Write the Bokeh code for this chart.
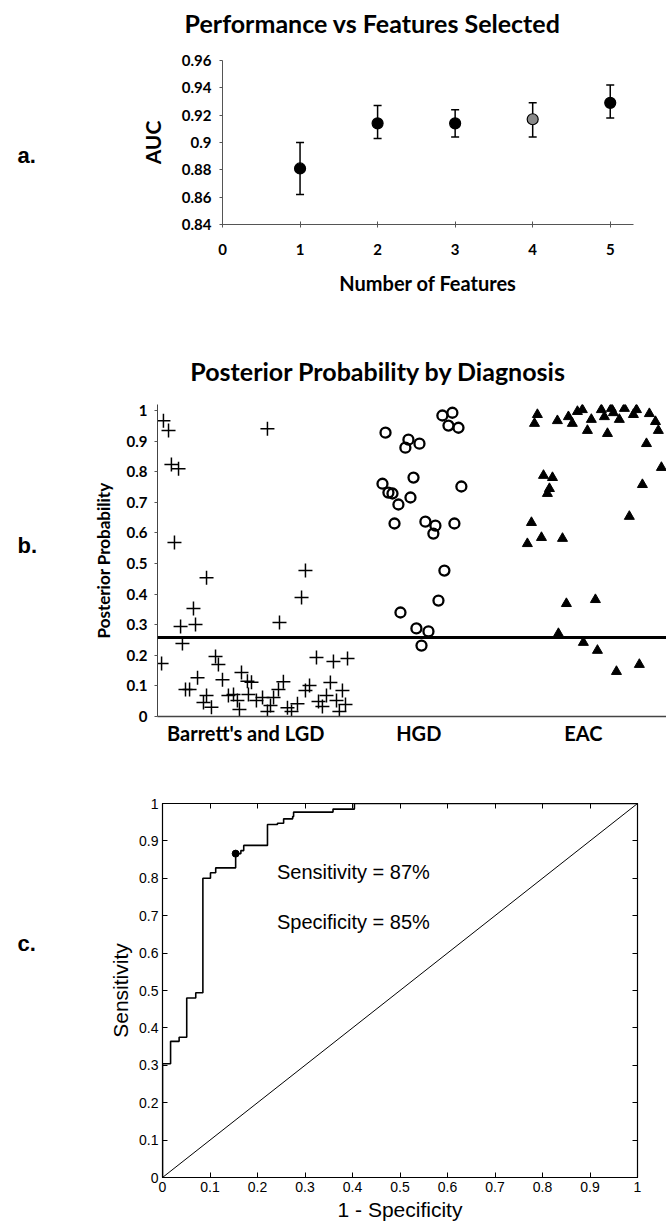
from bokeh.plotting import figure
from bokeh.models import (Label, Whisker, ColumnDataSource, FixedTicker, LinearAxis,
                          Span, CustomJSTickFormatter, TeeHead, Range1d)
from bokeh.layouts import column, row
from bokeh.embed import file_html
from bokeh.resources import INLINE

# ---------------- data: panel a ----------------
features = [1, 2, 3, 4, 5]
auc_mean = [0.881, 0.914, 0.914, 0.917, 0.929]
auc_low = [0.862, 0.903, 0.904, 0.904, 0.918]
auc_high = [0.900, 0.927, 0.924, 0.929, 0.942]
auc_fill = ["black", "black", "black", "#8a8a8a", "black"]
a_xticks = [0, 1, 2, 3, 4, 5]
a_yticks = [0.84, 0.86, 0.88, 0.9, 0.92, 0.94, 0.96]

# ---------------- data: panel b ----------------
categories = ["Barrett's and LGD", "HGD", "EAC"]
category_pos = [0.52, 1.54, 2.51]
threshold = 0.258
lgd_x = [0.035, 0.065, 0.082, 0.124, 0.100, 0.648, 0.289, 0.212, 0.136, 0.224, 0.872, 0.849, 0.719,
         0.024, 0.147, 0.165, 0.189, 0.236, 0.271, 0.289, 0.318, 0.342, 0.359, 0.383, 0.418, 0.448,
         0.471, 0.483, 0.530, 0.554, 0.536, 0.583, 0.619, 0.648, 0.666, 0.684, 0.713, 0.742, 0.766,
         0.790, 0.825, 0.872, 0.896, 0.937, 0.949, 0.972, 0.996, 1.019, 1.037, 1.055, 1.072, 1.090,
         1.108, 1.120, 0.495]
lgd_y = [0.967, 0.935, 0.824, 0.810, 0.569, 0.941, 0.454, 0.353, 0.294, 0.301, 0.477, 0.389, 0.307,
         0.173, 0.239, 0.088, 0.088, 0.127, 0.046, 0.069, 0.030, 0.196, 0.170, 0.120, 0.069, 0.072,
         0.052, 0.023, 0.115, 0.112, 0.072, 0.052, 0.062, 0.016, 0.036, 0.062, 0.088, 0.114, 0.029,
         0.016, 0.042, 0.085, 0.101, 0.193, 0.049, 0.033, 0.069, 0.111, 0.180, 0.052, 0.016, 0.085,
         0.039, 0.190, 0.144]
hgd_x = [1.344, 1.679, 1.738, 1.715, 1.774, 1.461, 1.479, 1.544, 1.326, 1.361, 1.385, 1.420, 1.491,
         1.509, 1.791, 1.397, 1.579, 1.638, 1.626, 1.750, 1.691, 1.656, 1.432, 1.526, 1.597, 1.556]
hgd_y = [0.928, 0.984, 0.993, 0.951, 0.944, 0.879, 0.905, 0.892, 0.761, 0.732, 0.729, 0.693, 0.716,
         0.781, 0.752, 0.631, 0.637, 0.624, 0.598, 0.631, 0.477, 0.379, 0.340, 0.288, 0.278, 0.232]
eac_x = [2.239, 2.222, 2.357, 2.422, 2.445, 2.475, 2.504, 2.557, 2.534, 2.616, 2.634, 2.675, 2.687,
         2.722, 2.652, 2.752, 2.805, 2.823, 2.899, 2.935, 2.952, 2.882, 2.970, 2.858, 2.781, 2.275,
         2.328, 2.310, 2.298, 2.204, 2.180, 2.263, 2.387, 2.410, 2.581, 2.363, 2.510, 2.593, 2.705,
         2.840]
eac_y = [0.987, 0.958, 0.967, 0.980, 0.958, 0.997, 1.003, 0.971, 0.935, 1.003, 0.980, 1.007, 0.993,
         0.971, 0.925, 1.007, 0.987, 1.003, 0.990, 0.964, 0.935, 0.892, 0.814, 0.758, 0.654, 0.788,
         0.781, 0.745, 0.729, 0.634, 0.565, 0.585, 0.582, 0.369, 0.382, 0.271, 0.242, 0.216, 0.147,
         0.170]
b_yticks = [0, 0.1, 0.2, 0.3, 0.4, 0.5, 0.6, 0.7, 0.8, 0.9, 1]

# ---------------- data: panel c ----------------
roc_fpr = [0, 0, 0.017, 0.035, 0.051, 0.070, 0.085, 0.101, 0.112, 0.154, 0.165, 0.171, 0.221,
           0.242, 0.255, 0.274, 0.276, 0.359, 0.404, 1.0]
roc_tpr = [0, 0.304, 0.364, 0.375, 0.480, 0.494, 0.800, 0.815, 0.828, 0.866, 0.874, 0.888, 0.944,
           0.947, 0.959, 0.965, 0.977, 0.985, 1.0, 1.0]
chance_x = [0, 1]
chance_y = [0, 1]
op_fpr = [0.154]
op_tpr = [0.866]
c_ticks = [0, 0.1, 0.2, 0.3, 0.4, 0.5, 0.6, 0.7, 0.8, 0.9, 1]
sens_text = "Sensitivity = 87%"
spec_text = "Specificity = 85%"

title_a = "Performance vs Features Selected"
title_b = "Posterior Probability by Diagnosis"
panel_tags = ["a.", "b.", "c."]

CAL = "Lato"
ARIAL = "Liberation Sans"
num_fmt = CustomJSTickFormatter(code="return tick.toString()")
blank_fmt = CustomJSTickFormatter(code="return ''")
W = 666
SPACER = 60


def base(fig):
    fig.grid.grid_line_color = None
    fig.background_fill_color = "white"
    fig.border_fill_color = "white"
    return fig


def text_fig(width, height, x0, y_top, top=0, bottom=0):
    """Axis-less strip whose data units equal page pixels (y grows downward)."""
    f = figure(width=width, height=height, x_range=Range1d(x0, x0 + width),
               y_range=Range1d(y_top + height - bottom, y_top + top),
               x_axis_location=None, y_axis_location=None, output_backend="svg",
               toolbar_location=None, min_border_left=0, min_border_right=0,
               min_border_top=top, min_border_bottom=bottom)
    f.outline_line_color = None
    f.grid.grid_line_color = None
    return f


def tag(fig, text, y):
    fig.add_layout(Label(x=17, y=y, text=text, text_font=ARIAL, text_font_style="bold",
                         text_font_size="22px", text_align="left", text_baseline="middle",
                         text_color="black"))


def heading(fig, text, x, y):
    fig.add_layout(Label(x=x, y=y, text=text, text_font=CAL, text_font_style="bold",
                         text_font_size="25px", text_align="center", text_baseline="middle",
                         text_color="black"))


# ================= title strip a =================
ta = text_fig(W, 40, 0, 0)
heading(ta, title_a, 372, 22)

# ================= panel a =================
pa = base(figure(width=W - SPACER, height=280, x_range=Range1d(0, 5.3), y_range=Range1d(0.84, 0.96),
                 output_backend="svg", toolbar_location=None,
                 min_border_left=162, min_border_right=33, min_border_top=20, min_border_bottom=96))
pa.outline_line_color = None
for ax in (pa.xaxis[0], pa.yaxis[0]):
    ax.axis_line_color = "#555555"
    ax.major_tick_line_color = "#555555"
    ax.minor_tick_line_color = None
    ax.major_label_text_font = CAL
    ax.major_label_text_font_style = "bold"
    ax.major_label_text_font_size = "15px"
    ax.major_label_text_color = "black"
    ax.axis_label_text_font = CAL
    ax.axis_label_text_font_style = "bold"
    ax.axis_label_text_color = "black"
    ax.formatter = num_fmt
pa.xaxis.ticker = FixedTicker(ticks=a_xticks)
pa.yaxis.ticker = FixedTicker(ticks=a_yticks)
pa.xaxis.major_tick_in = 3
pa.xaxis.major_tick_out = 3
pa.yaxis.major_tick_in = 0
pa.yaxis.major_tick_out = 3
pa.xaxis.major_label_standoff = 16
pa.yaxis.major_label_standoff = 8
pa.xaxis.axis_label = "Number of Features"
pa.xaxis.axis_label_text_font_size = "20px"
pa.xaxis.axis_label_standoff = 13
pa.yaxis.axis_label = "AUC"
pa.yaxis.axis_label_text_font_size = "21px"
pa.yaxis.axis_label_standoff = 14

src_a = ColumnDataSource(dict(x=features, y=auc_mean, lo=auc_low, hi=auc_high, fill=auc_fill))
pa.add_layout(Whisker(source=src_a, base="x", upper="hi", lower="lo", line_width=1.5,
                      upper_head=TeeHead(size=8, line_width=1.5),
                      lower_head=TeeHead(size=8, line_width=1.5)))
pa.scatter("x", "y", source=src_a, size=11, fill_color="fill", line_color="black", line_width=1.2)

sa = text_fig(SPACER, 280, 0, 40, top=20, bottom=96)
tag(sa, panel_tags[0], 155)

# ================= title strip b =================
tb = text_fig(W, 70, 0, 320)
heading(tb, title_b, 378, 370)

# ================= panel b =================
pb = base(figure(width=W - SPACER, height=370, x_range=Range1d(0, 3), y_range=Range1d(0, 1.02),
                 output_backend="svg", toolbar_location=None,
                 min_border_left=97, min_border_right=0, min_border_top=14, min_border_bottom=44))
pb.outline_line_color = None
for ax in (pb.xaxis[0], pb.yaxis[0]):
    ax.axis_line_color = "#444444"
    ax.major_tick_line_color = "#555555"
    ax.minor_tick_line_color = None
    ax.major_label_text_font = CAL
    ax.major_label_text_font_style = "bold"
    ax.major_label_text_color = "black"
    ax.axis_label_text_font = CAL
    ax.axis_label_text_font_style = "bold"
    ax.axis_label_text_color = "black"
pb.yaxis.ticker = FixedTicker(ticks=b_yticks)
pb.yaxis.formatter = num_fmt
pb.yaxis.major_label_text_font_size = "15px"
pb.yaxis.major_tick_in = 0
pb.yaxis.major_tick_out = 3
pb.yaxis.major_label_standoff = 7
pb.yaxis.axis_label = "Posterior Probability"
pb.yaxis.axis_label_text_font_size = "17px"
pb.yaxis.axis_label_standoff = 10
pb.xaxis.ticker = FixedTicker(ticks=category_pos)
pb.xaxis.formatter = CustomJSTickFormatter(args=dict(names=categories), code="return names[index]")
pb.xaxis.major_label_text_font_size = "20px"
pb.xaxis.major_tick_in = 0
pb.xaxis.major_tick_out = 0
pb.xaxis.major_label_standoff = 4
pb.xaxis.axis_line_width = 1.5

pb.add_layout(Span(location=threshold, dimension="width", line_color="black", line_width=3))
pb.scatter(lgd_x, lgd_y, marker="cross", size=14, line_color="black", line_width=1.5)
pb.scatter(hgd_x, hgd_y, marker="circle", size=10, fill_color=None, line_color="black", line_width=2.3)
pb.scatter(eac_x, eac_y, marker="triangle", size=10, fill_color="black", line_color="black")

sb = text_fig(SPACER, 370, 0, 390, top=14, bottom=44)
tag(sb, panel_tags[1], 545)

# ================= panel c =================
pc = base(figure(width=W - SPACER, height=468, x_range=Range1d(0, 1), y_range=Range1d(0, 1),
                 output_backend="svg", toolbar_location=None,
                 min_border_left=102, min_border_right=29, min_border_top=43, min_border_bottom=51))
pc.outline_line_color = "black"
pc.outline_line_width = 1.2
pc.add_layout(LinearAxis(), "above")
pc.add_layout(LinearAxis(), "right")
for ax in pc.axis:
    ax.ticker = FixedTicker(ticks=c_ticks)
    ax.axis_line_color = "black"
    ax.major_tick_line_color = "black"
    ax.minor_tick_line_color = None
    ax.major_tick_in = 5
    ax.major_tick_out = 0
    ax.major_label_text_font = ARIAL
    ax.major_label_text_font_size = "14px"
    ax.major_label_text_color = "black"
    ax.major_label_standoff = 4
    ax.axis_label_text_font = ARIAL
    ax.axis_label_text_font_style = "normal"
    ax.axis_label_text_font_size = "21px"
    ax.axis_label_text_color = "black"
    ax.formatter = num_fmt
pc.above[0].formatter = blank_fmt
pc.right[0].formatter = blank_fmt
pc.above[0].major_label_standoff = 0
pc.right[0].major_label_standoff = 0
pc.below[0].axis_label = "1 - Specificity"
pc.left[0].axis_label = "Sensitivity"
pc.below[0].axis_label_standoff = 3
pc.left[0].axis_label_standoff = 4

pc.line(chance_x, chance_y, line_color="black", line_width=1)
pc.step(roc_fpr, roc_tpr, mode="after", line_color="black", line_width=1.6)
pc.scatter(op_fpr, op_tpr, size=7, fill_color="black", line_color="black")
pc.add_layout(Label(x=0.241, y=0.818, text=sens_text, text_font=ARIAL, text_font_size="20px",
                    text_align="left", text_baseline="middle", text_color="black"))
pc.add_layout(Label(x=0.241, y=0.682, text=spec_text, text_font=ARIAL, text_font_size="20px",
                    text_align="left", text_baseline="middle", text_color="black"))

sc = text_fig(SPACER, 468, 0, 760, top=43, bottom=51)
tag(sc, panel_tags[2], 943)

layout = column(ta, row(sa, pa, spacing=0), tb, row(sb, pb, spacing=0), row(sc, pc, spacing=0),
                spacing=0)
open("out.html", "w").write(file_html(layout, INLINE))
